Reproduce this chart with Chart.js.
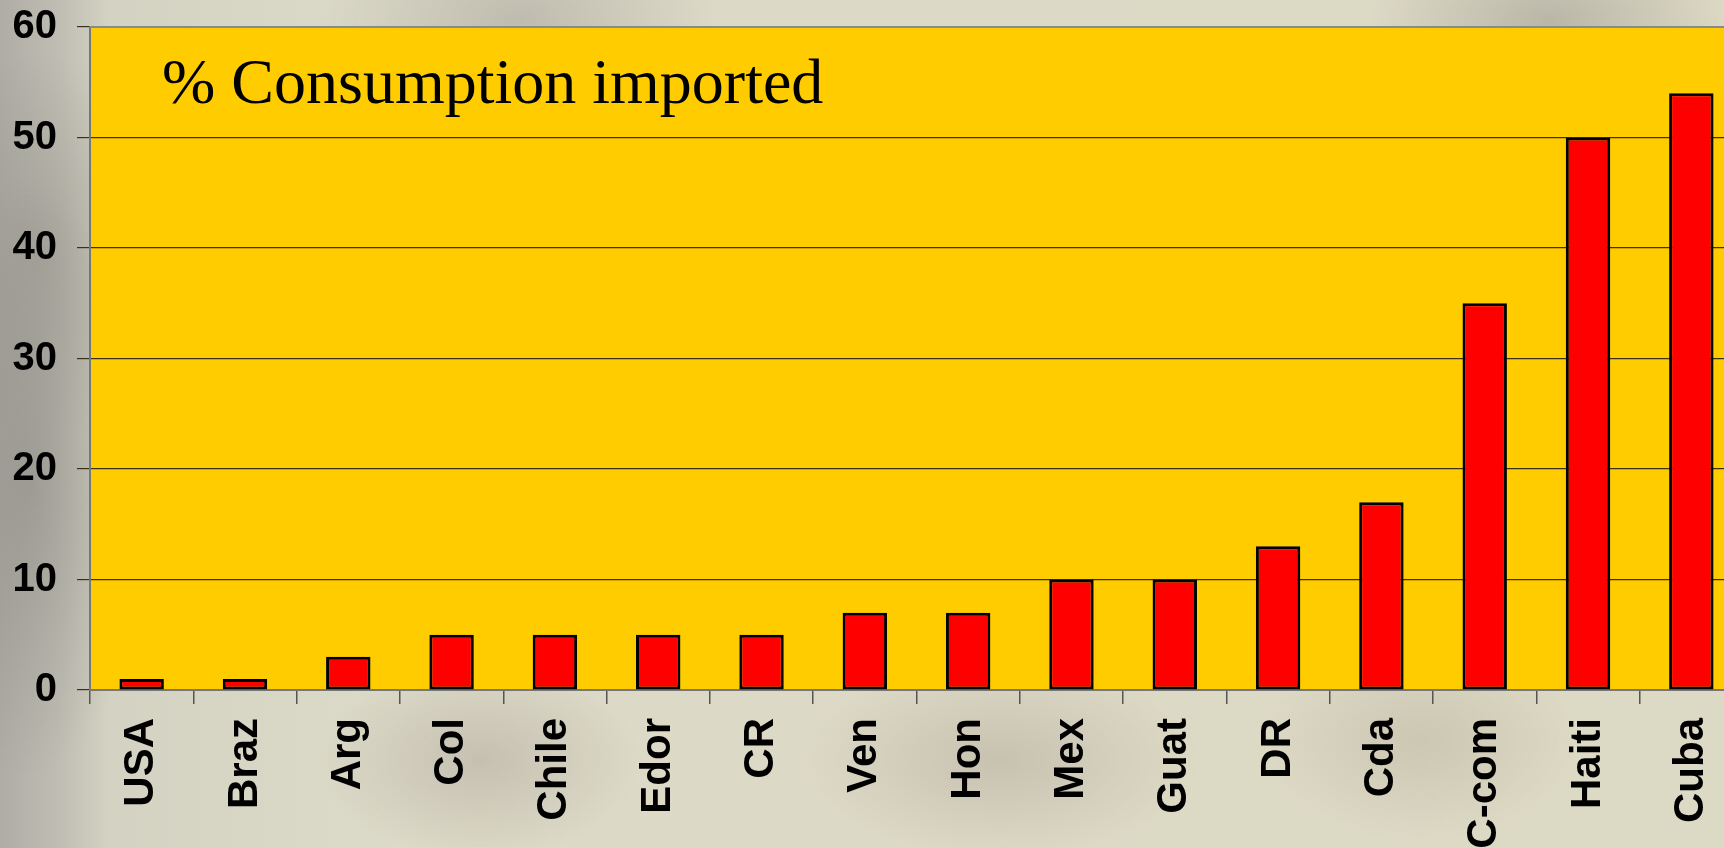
<!DOCTYPE html>
<html>
<head>
<meta charset="utf-8">
<script src="https://cdn.jsdelivr.net/npm/chart.js@4"></script>
<style>
html, body { margin:0; padding:0; width:1724px; height:848px; overflow:hidden; }
body {
  background:
    radial-gradient(ellipse 110px 300px at 30px 480px, rgba(130,128,122,0.5), rgba(130,128,122,0) 100%),
    radial-gradient(ellipse 120px 200px at 40px 250px, rgba(140,138,130,0.45), rgba(140,138,130,0) 100%),
    radial-gradient(ellipse 200px 120px at 520px 20px, rgba(160,158,150,0.5), rgba(160,158,150,0) 100%),
    radial-gradient(ellipse 180px 90px at 1550px 20px, rgba(150,148,140,0.5), rgba(150,148,140,0) 100%),
    radial-gradient(ellipse 160px 100px at 480px 760px, rgba(170,160,150,0.45), rgba(170,160,150,0) 100%),
    radial-gradient(ellipse 200px 100px at 1000px 760px, rgba(175,165,150,0.45), rgba(175,165,150,0) 100%),
    radial-gradient(ellipse 160px 100px at 1420px 740px, rgba(180,170,150,0.4), rgba(180,170,150,0) 100%),
    linear-gradient(to right, #aeaca4 0px, #c0beb4 60px, #d4d2c2 110px, #dcdac8 400px, #dcd9c4 1724px);
}
#wrap { position:absolute; left:0; top:0; width:1760px; height:848px; }
</style>
</head>
<body>
<div id="wrap"><canvas id="c"></canvas></div>
<script>
const categories = ["USA","Braz","Arg","Col","Chile","Edor","CR","Ven","Hon","Mex","Guat","DR","Cda","C-com","Haiti","Cuba"];
const importedPct = [1,1,3,5,5,5,5,7,7,10,10,13,17,35,50,54];
const yTicks = [0,10,20,30,40,50,60];
const chartTitle = "% Consumption imported";

const areaPlugin = {
  id: 'area',
  beforeDraw(chart) {
    const {ctx, chartArea: a} = chart;
    ctx.save();
    ctx.fillStyle = '#FFCC00';
    ctx.fillRect(a.left, a.top, a.right - a.left, a.bottom - a.top);
    ctx.restore();
  },
  afterDraw(chart) {
    const {ctx, chartArea: a} = chart;
    ctx.save();
    ctx.strokeStyle = '#8a8a88';
    ctx.lineWidth = 2;
    ctx.beginPath();
    ctx.moveTo(a.left, a.top);
    ctx.lineTo(a.right, a.top);
    ctx.stroke();
    ctx.fillStyle = '#000';
    ctx.font = '64px "Liberation Serif", "Times New Roman", serif';
    ctx.textBaseline = 'alphabetic';
    ctx.textAlign = 'left';
    ctx.fillText(chartTitle, a.left + 72, 103);
    ctx.restore();
  }
};

new Chart(document.getElementById('c'), {
  type: 'bar',
  data: {
    labels: categories,
    datasets: [{
      data: importedPct,
      backgroundColor: '#FF0000',
      borderColor: '#000000',
      borderWidth: 3,
      borderSkipped: false,
      barPercentage: 0.43,
      categoryPercentage: 1.0
    }]
  },
  options: {
    responsive: true,
    maintainAspectRatio: false,
    animation: false,
    layout: { padding: { top: 27, left: 0, right: 17, bottom: 0 } },
    plugins: { legend: { display: false }, tooltip: { enabled: false } },
    scales: {
      x: {
        afterFit(scale) { scale.height = 158; },
        grid: { offset: true, drawOnChartArea: false, drawTicks: true, tickLength: 14, color: '#555', lineWidth: 1.5 },
        border: { color: '#777', width: 2 },
        ticks: {
          color: '#000',
          maxRotation: 90, minRotation: 90,
          padding: 14,
          autoSkip: false,
          font: { family: '"Liberation Sans", Arial, sans-serif', size: 42, weight: 'bold' }
        }
      },
      y: {
        min: 0, max: 60,
        afterFit(scale) { scale.width = 90; scale.paddingTop = 0; scale.paddingBottom = 0; },
        afterBuildTicks(scale) { scale.ticks = yTicks.map(v => ({ value: v })); },
        grid: { color: '#3a3218', lineWidth: 1.2, drawTicks: true, tickLength: 13 },
        border: { color: '#777', width: 2 },
        ticks: {
          color: '#000',
          padding: 20,
          font: { family: '"Liberation Sans", Arial, sans-serif', size: 40, weight: 'bold' }
        }
      }
    }
  },
  plugins: [areaPlugin]
});
</script>
</body>
</html>
